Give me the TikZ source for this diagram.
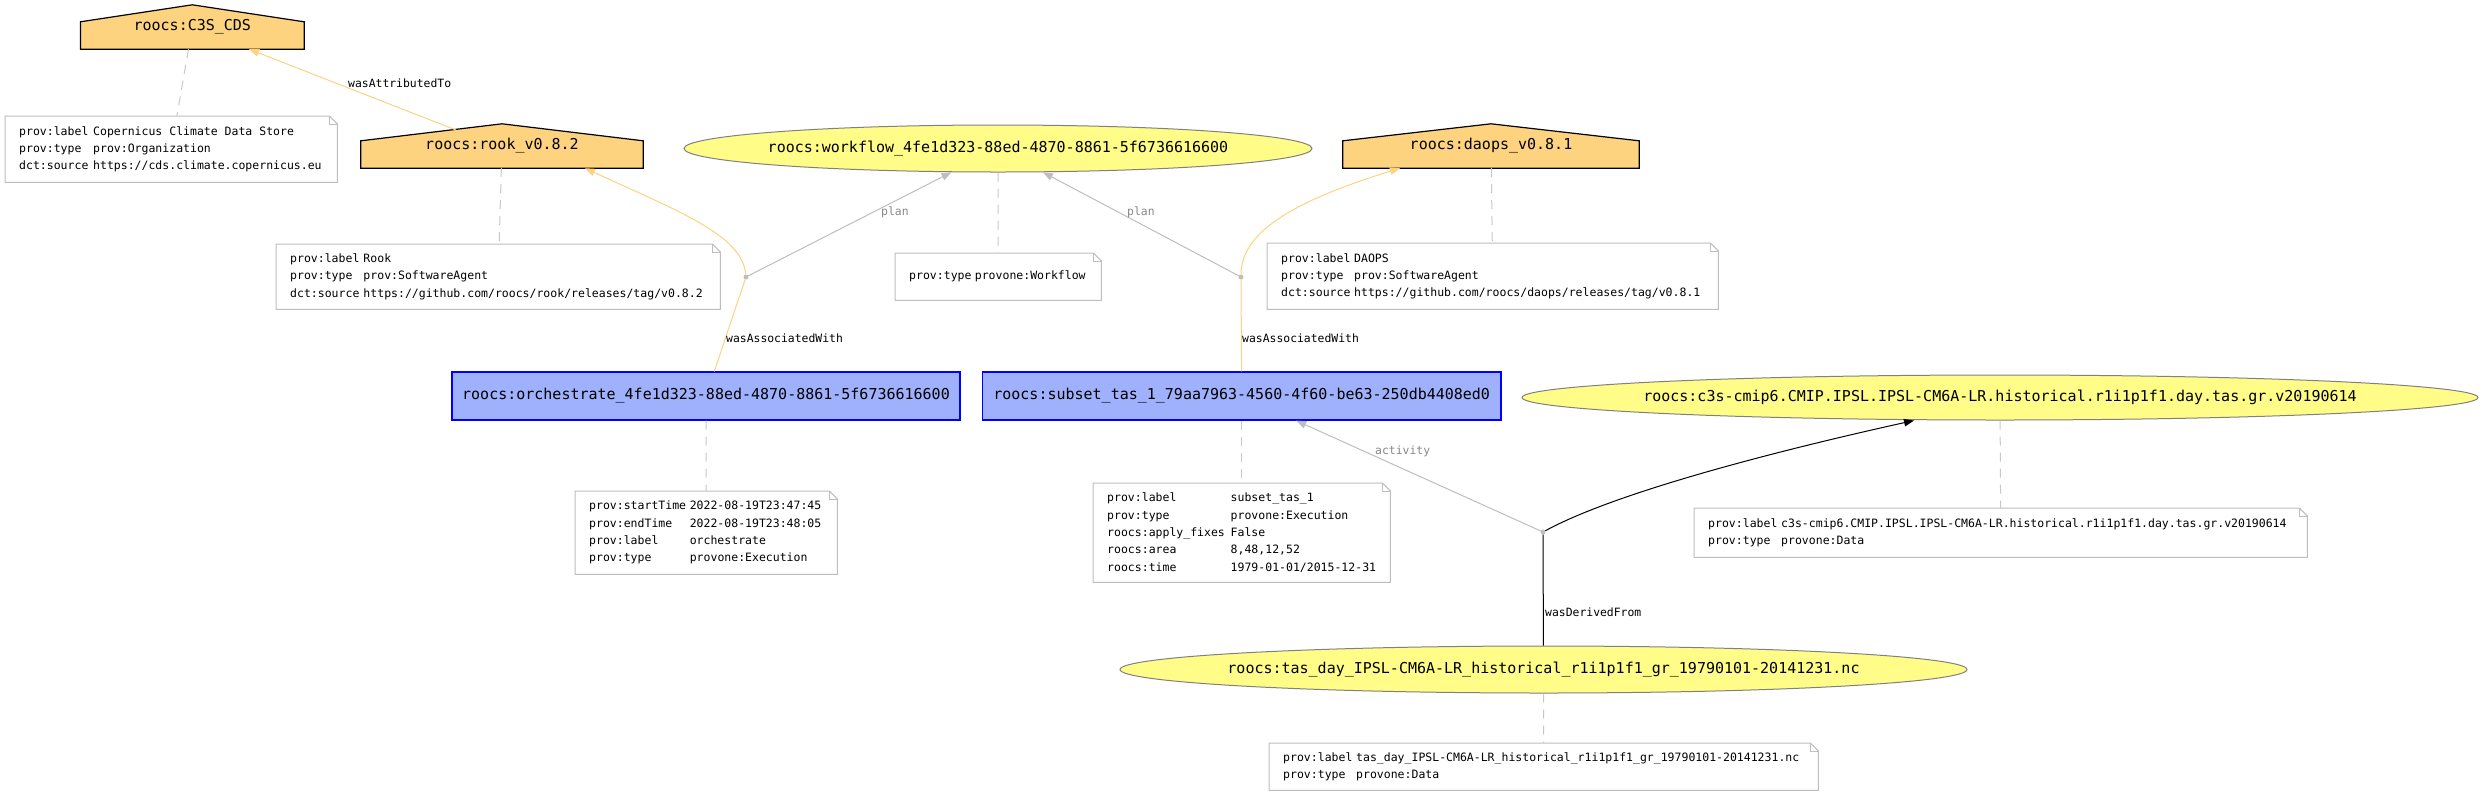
\documentclass[tikz,border=0pt]{standalone}
\usepackage{fontspec}
\newfontfamily\monof{DejaVu Sans Mono}
\usetikzlibrary{shapes.geometric,arrows.meta,backgrounds,calc}
\definecolor{agentfill}{HTML}{FED37F}
\definecolor{entfill}{HTML}{FFFC87}
\definecolor{entline}{HTML}{808080}
\definecolor{actfill}{HTML}{9FB1FC}
\definecolor{actline}{HTML}{0000FF}
\definecolor{lgray}{HTML}{BEBEBE}
\definecolor{anngray}{HTML}{C8C8C8}
\definecolor{lblgray}{HTML}{888888}
\newcommand\zw[1]{\makebox[0pt]{#1}}
\newcommand\kv[3]{\makebox[#1][l]{#2}\mbox{\spaceskip=0.602em\relax\xspaceskip=0.602em\relax #3}}
\newcommand\nodefont{\monof\fontsize{15}{18}\selectfont}
\newcommand\notefont{\monof\fontsize{11.5}{17.3}\selectfont}
\newcommand\lblfont{\monof\fontsize{11.4}{13}\selectfont}
\newcommand\noteoutline[1]{%
  \draw[noteline] (#1.south west) -- (#1.south east) -- ([yshift=-8pt]#1.north east)
     -- ([xshift=-8pt]#1.north east) -- (#1.north west) -- cycle;
  \draw[noteline] ([xshift=-8pt]#1.north east) -- ([xshift=-8pt,yshift=-8pt]#1.north east)
     -- ([yshift=-8pt]#1.north east);}
\newcommand\houseoutline[1]{%
  \filldraw[agentdraw] (#1.south west) -- (#1.south east) -- ([yshift=-17pt]#1.north east)
     -- (#1.north) -- ([yshift=-17pt]#1.north west) -- cycle;}
\tikzset{
  agent/.style={rectangle, minimum height=44pt, inner sep=0pt, font=\nodefont},
  agentdraw/.style={draw=black, fill=agentfill, line width=1.2pt},
  entity/.style={ellipse, draw=entline, fill=entfill, inner sep=0pt, line width=1pt, font=\nodefont},
  activity/.style={rectangle, draw=actline, fill=actfill, minimum height=48pt, inner sep=0pt, line width=1.3pt, font=\nodefont},
  note/.style={rectangle, anchor=north west, inner xsep=14pt, inner ysep=0pt, align=left, font=\notefont},
  noteline/.style={draw=lgray, line width=1pt},
  blank/.style={circle, fill=lgray, draw=none, inner sep=0pt, minimum size=5pt},
  tipA/.style={-{Triangle[length=10pt,width=7.5pt]}},
  attr/.style={draw=agentfill, line width=1pt, tipA},
  assocline/.style={draw=agentfill, line width=1pt},
  planline/.style={draw=lgray, line width=1pt, tipA},
  derline/.style={draw=black, line width=1pt},
  derarrow/.style={draw=black, line width=1pt, tipA},
  annline/.style={draw=anngray, line width=1pt, dash pattern=on 9pt off 7pt},
  lbl/.style={inner sep=0pt, anchor=west, font=\lblfont, text height=8pt, text depth=2pt},
  lblg/.style={lbl, text=lblgray},
}
\begin{document}
\begin{tikzpicture}[x=1pt,y=-1pt]
\useasboundingbox (0,0) rectangle (2483,796);
% agents
\node[agent, minimum width=223.4pt] (cds) at (192.3,27) {\zw{roocs:C3S\_CDS}};
\node[agent, minimum width=282pt] (rook) at (502,146) {\zw{roocs:rook\_v0.8.2}};
\node[agent, minimum width=296pt] (daops) at (1491,146) {\zw{roocs:daops\_v0.8.1}};
% entities
\node[entity, minimum width=628pt, minimum height=47pt] (wf) at (998,148.5) {\zw{roocs:workflow\_4fe1d323-88ed-4870-8861-5f6736616600}};
\node[entity, minimum width=956pt, minimum height=45pt] (src) at (2000,397.5) {\zw{roocs:c3s-cmip6.CMIP.IPSL.IPSL-CM6A-LR.historical.r1i1p1f1.day.tas.gr.v20190614}};
\node[entity, minimum width=847pt, minimum height=47pt] (tas) at (1543.5,669.5) {\zw{roocs:tas\_day\_IPSL-CM6A-LR\_historical\_r1i1p1f1\_gr\_19790101-20141231.nc}};
% activities
\node[activity, minimum width=508pt] (orch) at (706,396) {\zw{roocs:orchestrate\_4fe1d323-88ed-4870-8861-5f6736616600}};
\node[activity, minimum width=518.5pt] (subset) at (1241.7,396) {\zw{roocs:subset\_tas\_1\_79aa7963-4560-4f60-be63-250db4408ed0}};
% notes
\node[note, text width=304pt, minimum height=66pt] (n1) at (5,116) {%
  \kv{74pt}{prov:label}{Copernicus Climate Data Store}\\
  \kv{74pt}{prov:type}{prov:Organization}\\
  \kv{74pt}{dct:source}{https://cds.climate.copernicus.eu}};
\node[note, text width=416pt, minimum height=65pt] (n2) at (276,244) {%
  \kv{73.3pt}{prov:label}{Rook}\\
  \kv{73.3pt}{prov:type}{prov:SoftwareAgent}\\
  \kv{73.3pt}{dct:source}{https://github.com/roocs/rook/releases/tag/v0.8.2}};
\node[note, text width=178pt, minimum height=47pt] (n3) at (895,253) {%
  \kv{65.7pt}{prov:type}{provone:Workflow}};
\node[note, text width=423pt, minimum height=66pt] (n4) at (1267,243) {%
  \kv{73pt}{prov:label}{DAOPS}\\
  \kv{73pt}{prov:type}{prov:SoftwareAgent}\\
  \kv{73pt}{dct:source}{https://github.com/roocs/daops/releases/tag/v0.8.1}};
\node[note, text width=234pt, minimum height=83pt] (n5) at (575,491) {%
  \kv{100.6pt}{prov:startTime}{2022-08-19T23:47:45}\\
  \kv{100.6pt}{prov:endTime}{2022-08-19T23:48:05}\\
  \kv{100.6pt}{prov:label}{orchestrate}\\
  \kv{100.6pt}{prov:type}{provone:Execution}};
\node[note, text width=269pt, minimum height=99pt] (n6) at (1093,483) {%
  \kv{123.5pt}{prov:label}{subset\_tas\_1}\\
  \kv{123.5pt}{prov:type}{provone:Execution}\\
  \kv{123.5pt}{roocs:apply\_fixes}{False}\\
  \kv{123.5pt}{roocs:area}{8,48,12,52}\\
  \kv{123.5pt}{roocs:time}{1979-01-01/2015-12-31}};
\node[note, text width=585pt, minimum height=49pt] (n7) at (1694,508) {%
  \kv{73pt}{prov:label}{c3s-cmip6.CMIP.IPSL.IPSL-CM6A-LR.historical.r1i1p1f1.day.tas.gr.v20190614}\\
  \kv{73pt}{prov:type}{provone:Data}};
\node[note, text width=521pt, minimum height=47pt] (n8) at (1269,743) {%
  \kv{73pt}{prov:label}{tas\_day\_IPSL-CM6A-LR\_historical\_r1i1p1f1\_gr\_19790101-20141231.nc}\\
  \kv{73pt}{prov:type}{provone:Data}};
% blank nodes
\node[blank] (b1) at (746,277) {};
\node[blank] (b2) at (1241,277) {};
\node[blank] (b3) at (1543,532) {};
% background layer: white page and house shapes
\begin{pgfonlayer}{background}
  \fill[white] (0,0) rectangle (2483,796);
  \houseoutline{cds}
  \houseoutline{rook}
  \houseoutline{daops}
\end{pgfonlayer}
\foreach \n in {n1,n2,n3,n4,n5,n6,n7,n8} {\noteoutline{\n}}
% annotation links
\draw[annline] (cds) -- (n1);
\draw[annline] (rook) -- (n2);
\draw[annline] (wf) -- (n3);
\draw[annline] (daops) -- (n4);
\draw[annline] (orch) -- (n5);
\draw[annline] (subset) -- (n6);
\draw[annline] (src) -- (n7);
\draw[annline] (tas) -- (n8);
% relations
\draw[attr] ($(rook.center)+(-46,-16)$) -- (cds);
\draw[assocline] (orch) -- (b1);
\draw[attr] (b1) .. controls (742,235) and (680,212) .. ([xshift=83pt]rook.south);
\draw[planline] (b1) -- (wf);
\draw[assocline] (subset) -- (b2);
\draw[attr] (b2) .. controls (1241,230) and (1300,199) .. ([xshift=-91pt]daops.south);
\draw[planline] (b2) -- (wf);
\draw[derline] (tas) -- (b3);
\draw[derarrow] (b3) .. controls (1620,490) and (1794,447) .. ([xshift=-86pt]src.south);
\draw[planline] (b3) -- (subset);
% labels
\node[lbl] (la) at (348,84) {wasAttributedTo};
\node[lbl] (lb) at (726,339) {wasAssociatedWith};
\node[lblg] (lc) at (881,212) {plan};
\node[lblg] (ld) at (1127,212) {plan};
\node[lbl] (le) at (1242,339) {wasAssociatedWith};
\node[lblg] (lf) at (1375,451) {activity};
\node[lbl] (lg) at (1545,613) {wasDerivedFrom};
\end{tikzpicture}
\end{document}
